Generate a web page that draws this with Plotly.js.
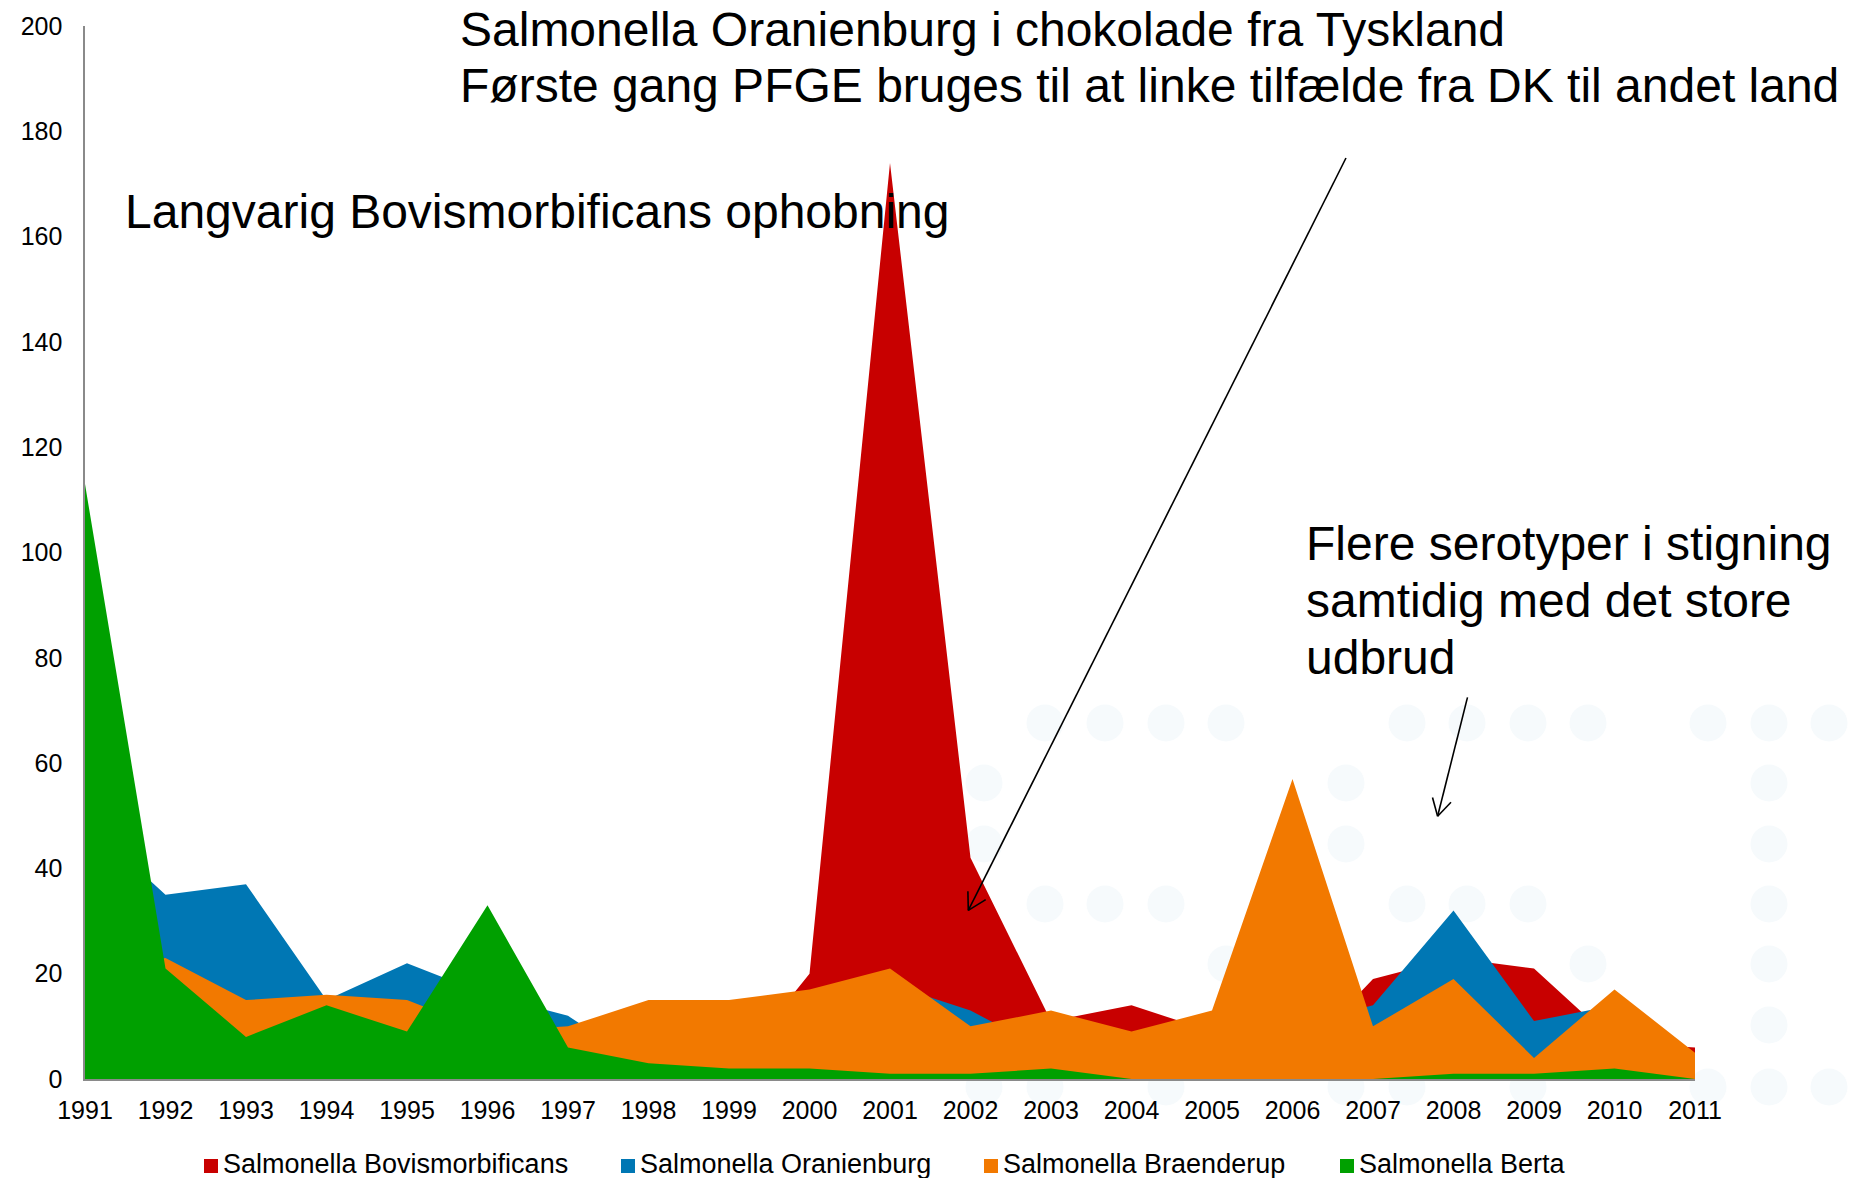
<!DOCTYPE html>
<html>
<head>
<meta charset="utf-8">
<script src="https://cdn.plot.ly/plotly-3.0.1.min.js"></script>
<style>html,body{margin:0;padding:0;background:#fff;}#chart{width:1859px;height:1178px;}</style>
</head>
<body>
<div id="chart"></div>
<script>
// ---- data ----
const years = [1991,1992,1993,1994,1995,1996,1997,1998,1999,2000,2001,2002,2003,2004,2005,2006,2007,2008,2009,2010,2011];
const tickLabels = ["1991","1992","1993","1994","1995","1996","1997","1998","1999","2000","2001","2002","2003","2004","2005","2006","2007","2008","2009","2010","2011"];
const bovismorbificans = [3,4,3,2,2,3,2,1,1,20,174,42,11,14,9,3,19,23,21,7,6];
const oranienburg      = [49,35,37,15,22,16,12,2,3,5,18,13,5,3,4,10,14,32,11,14,3];
const braenderup       = [20,23,15,16,15,9,10,15,15,17,21,10,13,9,13,57,10,19,4,17,5];
const berta            = [113,21,8,14,9,33,6,3,2,2,1,1,2,0,0,0,0,1,1,2,0];
const seriesNames = ["Salmonella Bovismorbificans","Salmonella Oranienburg","Salmonella Braenderup","Salmonella Berta"];
const yTicks = [0,20,40,60,80,100,120,140,160,180,200];

// ---- styling ----
const colors = ["#C80000","#0077B4","#F27900","#00A000"];
const FONT = "Liberation Sans, Arial, sans-serif";
const W_ = 1859, H_ = 1178;
const L = 85, R = 1695, T = 26, B = 1079;
const PW = R - L, PH = B - T;
function px(x){ return (x - L) / PW; }
function py(y){ return (B - y) / PH; }

const allSeries = [bovismorbificans, oranienburg, braenderup, berta];
const traces = allSeries.map(function(s, i){
  return {
    x: years, y: s, type: "scatter", mode: "none", fill: "tozeroy",
    fillcolor: colors[i], name: seriesNames[i], showlegend: false, hoverinfo: "skip"
  };
});

// faint background circles of the slide
const circleCenters = [
  [1045,723],[1105,723],[1166,723],[1226,723],[1407,723],[1467,723],[1528,723],[1588,723],[1708,723],[1769,723],[1829,723],
  [984,783],[1346,783],[1769,783],
  [984,844],[1346,844],[1769,844],
  [1045,904],[1105,904],[1166,904],[1407,904],[1467,904],[1528,904],[1769,904],
  [1226,964],[1588,964],[1769,964],
  [1769,1025],
  [984,1087],[1045,1087],[1166,1087],[1346,1087],[1407,1087],[1528,1087],[1708,1087],[1769,1087],[1829,1087]
];
const shapes = circleCenters.map(function(c){
  const r = 18.5;
  return {type:"circle", xref:"paper", yref:"paper", layer:"below",
    x0:px(c[0]-r), x1:px(c[0]+r), y0:py(c[1]+r), y1:py(c[1]-r),
    fillcolor:"#F6FAFC", line:{width:0}};
});
function seg(x0,y0,x1,y1){
  return {type:"line", xref:"paper", yref:"paper", x0:px(x0), y0:py(y0), x1:px(x1), y1:py(y1),
    line:{color:"#000", width:1.6}};
}
// arrow 1
shapes.push(seg(1346,158,968.3,910.4));
shapes.push(seg(967.9,891.2,968.3,910.4));
shapes.push(seg(985.7,899.6,968.3,910.4));
// arrow 2
shapes.push(seg(1467.5,697.4,1437.6,816.3));
shapes.push(seg(1432.5,797.5,1437.6,816.3));
shapes.push(seg(1451,802.3,1437.6,816.3));

function note(text, x, yc, size){
  return {text:text, xref:"paper", yref:"paper", x:px(x), y:py(yc), xanchor:"left", yanchor:"middle",
    showarrow:false, font:{family:FONT, size:size, color:"#000"}, align:"left"};
}
const annotations = [
  note("Salmonella Oranienburg i chokolade fra Tyskland", 458, 30, 48),
  note("Første gang PFGE bruges til at linke tilfælde fra DK til andet land", 458, 86, 48),
  note("Langvarig Bovismorbificans ophobning", 123, 212, 48),
  note("Flere serotyper i stigning", 1304, 543, 48),
  note("samtidig med det store", 1304, 600, 48),
  note("udbrud", 1304, 657, 48)
];

// legend drawn as squares + labels below the axis
const legendSquareX = [204, 621, 984, 1340];
seriesNames.forEach(function(n, i){
  const x0 = legendSquareX[i];
  shapes.push({type:"rect", xref:"paper", yref:"paper", x0:px(x0), x1:px(x0+14), y0:py(1173), y1:py(1159),
    fillcolor: colors[i], line:{width:0}});
  annotations.push(note(n, x0 + 17, 1164, 27));
});

const layout = {
  width: W_, height: H_,
  margin: {l: L, r: W_ - R, t: T, b: H_ - B, pad: 0},
  paper_bgcolor: "#fff", plot_bgcolor: "rgba(0,0,0,0)",
  font: {family: FONT, color: "#000"},
  showlegend: false,
  xaxis: {range: [1991, 2011], tickmode: "array", tickvals: years, ticktext: tickLabels, automargin: false,
    showgrid: false, zeroline: false, showline: true, linecolor: "#8A8A8A", linewidth: 1.6,
    ticks: "outside", ticklen: 8, tickcolor: "rgba(0,0,0,0)", tickfont: {family: FONT, size: 25, color: "#000"},
    fixedrange: true},
  yaxis: {range: [0, 200], tickmode: "array", tickvals: yTicks, ticktext: yTicks.map(String), automargin: false,
    showgrid: false, zeroline: false, showline: true, linecolor: "#8A8A8A", linewidth: 1.6,
    ticks: "outside", ticklen: 16, tickcolor: "rgba(0,0,0,0)", tickfont: {family: FONT, size: 25, color: "#000"},
    fixedrange: true},
  shapes: shapes,
  annotations: annotations
};

Plotly.newPlot("chart", traces, layout, {displayModeBar: false, staticPlot: true});
</script>
</body>
</html>
